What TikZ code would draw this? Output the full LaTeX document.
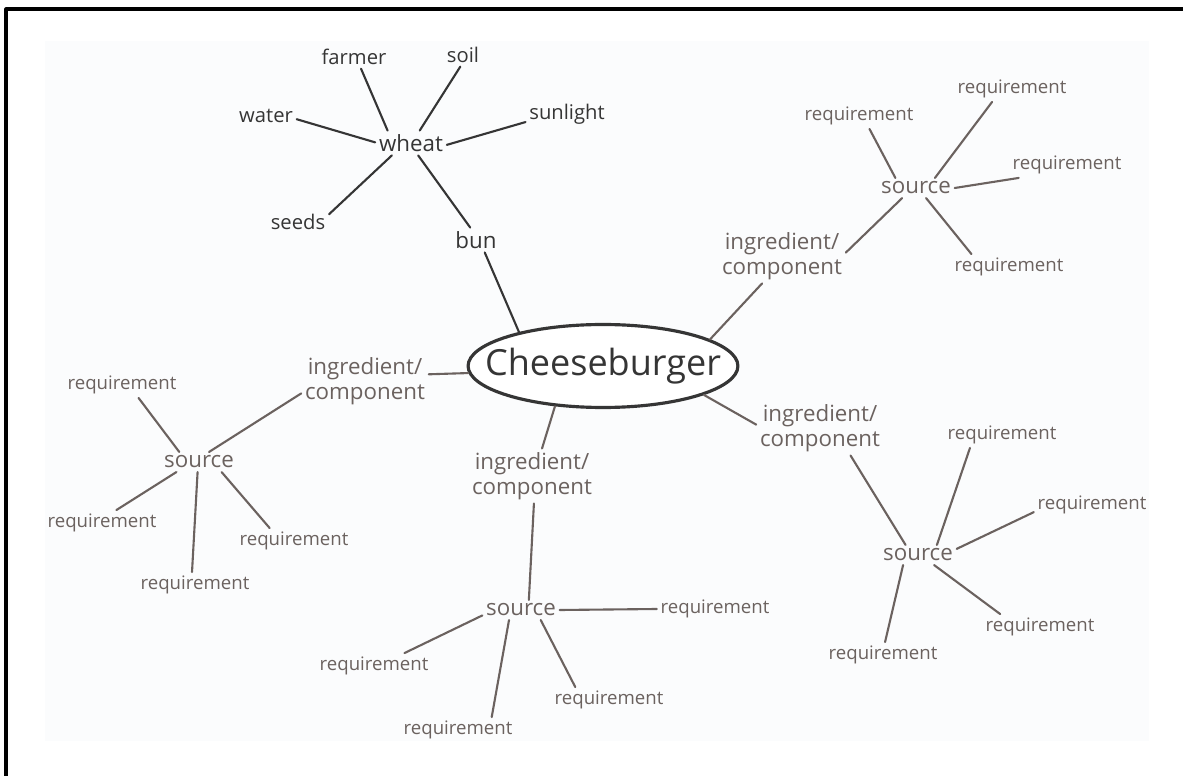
\documentclass[tikz,border=0pt]{standalone}
\usepackage{fontspec}
\setmainfont{Open Sans}
\usetikzlibrary{shapes.geometric}

\definecolor{ink}{HTML}{353535}
\definecolor{brownink}{HTML}{6B625F}
\definecolor{paper}{HTML}{FBFCFD}

\begin{document}
\begin{tikzpicture}[
    x=0.02cm,y=-0.02cm,
    line cap=round,line join=round,
    dark/.style={draw=ink,line width=1.2pt},
    brown/.style={draw=brownink,line width=1.2pt},
    leaf/.style={text=ink,font=\fontsize{11.5}{13}\selectfont,inner sep=2pt},
    hub/.style={text=ink,font=\fontsize{12.7}{14}\selectfont,inner sep=2pt},
    req/.style={text=brownink,font=\fontsize{10.6}{12}\selectfont,inner sep=2pt},
    src/.style={text=brownink,font=\fontsize{12.7}{14}\selectfont,inner sep=2pt},
    part/.style={text=brownink,font=\fontsize{12.7}{14.2}\selectfont,
        align=center,inner sep=2pt},
    core/.style={ellipse,draw=ink,line width=1.8pt,fill=white,
        minimum width=5.32cm,minimum height=1.66cm,
        inner xsep=-0.45cm,inner ysep=0pt,
        text=ink,font=\fontsize{20.5}{24}\selectfont}
  ]
    \useasboundingbox (0,0) rectangle (1183,776);
    \fill[white] (0,0) rectangle (1183,776);
    \fill[paper] (45,41) rectangle (1149,741);
    \draw[line width=1.8pt,line cap=butt] (6,776) -- (6,9) -- (1183,9);

    % centre
    \node[core] (burger) at (603,366) {Cheeseburger};

    % wheat
    \node[hub]  (wheat)    at (411,143) {wheat};
    \node[leaf] (farmer)   at (354,57)  {farmer};
    \node[leaf] (soil)     at (463,55)  {soil};
    \node[leaf] (water)    at (266,116) {water};
    \node[leaf] (sunlight) at (567,114) {sunlight};
    \node[leaf] (seeds)    at (298,222) {seeds};
    \node[hub]  (bun)      at (476,240) {bun};

    \draw[dark] (farmer.-59) -- (wheat.152);
    \draw[dark] (soil.-103) -- (wheat.55);
    \draw[dark] (water.-6) -- (wheat.179);
    \draw[dark] (sunlight.191) -- (wheat.-3);
    \draw[dark] (seeds.14) -- (wheat.-147);
    \draw[dark] (bun.115) -- (wheat.-60);
    \draw[dark] (bun.-55) -- (burger.158);

    % upper right
    \node[part] (ingUR) at (782,256) {ingredient/\\component};
    \node[src]  (srcUR) at (916,188) {source};
    \node[req]  (rUR1)  at (859,116) {requirement};
    \node[req]  (rUR2)  at (1012,89) {requirement};
    \node[req]  (rUR3)  at (1067,165) {requirement};
    \node[req]  (rUR4)  at (1009,267) {requirement};

    \draw[brown] (burger.14) -- (ingUR.-126);
    \draw[brown] (ingUR.3) -- (srcUR.-144);
    \draw[brown] (rUR1.-51) -- (srcUR.154);
    \draw[brown] (rUR2.-147) -- (srcUR.28);
    \draw[brown] (rUR3.-165) -- (srcUR.0);
    \draw[brown] (rUR4.161) -- (srcUR.-45);

    % lower right
    \node[part] (ingLR) at (820,428) {ingredient/\\component};
    \node[src]  (srcLR) at (918,555) {source};
    \node[req]  (rLR1)  at (1002,435) {requirement};
    \node[req]  (rLR2)  at (1092,505) {requirement};
    \node[req]  (rLR3)  at (1040,627) {requirement};
    \node[req]  (rLR4)  at (883,655) {requirement};

    \draw[brown] (burger.-16) -- (ingLR.177);
    \draw[brown] (ingLR.-42) -- (srcLR.141);
    \draw[brown] (rLR1.-158) -- (srcLR.28);
    \draw[brown] (rLR2.-173) -- (srcLR.9);
    \draw[brown] (rLR3.162) -- (srcLR.-32);
    \draw[brown] (rLR4.81) -- (srcLR.-146);

    % left
    \node[part] (ingL) at (365,381) {ingredient/\\component};
    \node[src]  (srcL) at (199,462) {source};
    \node[req]  (rL1)  at (122,385) {requirement};
    \node[req]  (rL2)  at (102,523) {requirement};
    \node[req]  (rL3)  at (195,585) {requirement};
    \node[req]  (rL4)  at (294,541) {requirement};

    \draw[brown] (burger.183) -- (ingL.6);
    \draw[brown] (ingL.-169) -- (srcL.45);
    \draw[brown] (rL1.-38) -- (srcL.153);
    \draw[brown] (rL2.42) -- (srcL.-156);
    \draw[brown] (rL3.103) -- (srcL.-98);
    \draw[brown] (rL4.152) -- (srcL.-24);

    % bottom
    \node[part] (ingB) at (532,476) {ingredient/\\component};
    \node[src]  (srcB) at (521,610) {source};
    \node[req]  (rB1)  at (715,609) {requirement};
    \node[req]  (rB2)  at (374,666) {requirement};
    \node[req]  (rB3)  at (458,730) {requirement};
    \node[req]  (rB4)  at (609,700) {requirement};

    \draw[brown] (burger.-140) -- (ingB.70);
    \draw[brown] (ingB.-86) -- (srcB.52);
    \draw[brown] (rB1.180) -- (srcB.0);
    \draw[brown] (rB2.23) -- (srcB.-172);
    \draw[brown] (rB3.21) -- (srcB.-140);
    \draw[brown] (rB4.159) -- (srcB.-27);
\end{tikzpicture}
\end{document}
